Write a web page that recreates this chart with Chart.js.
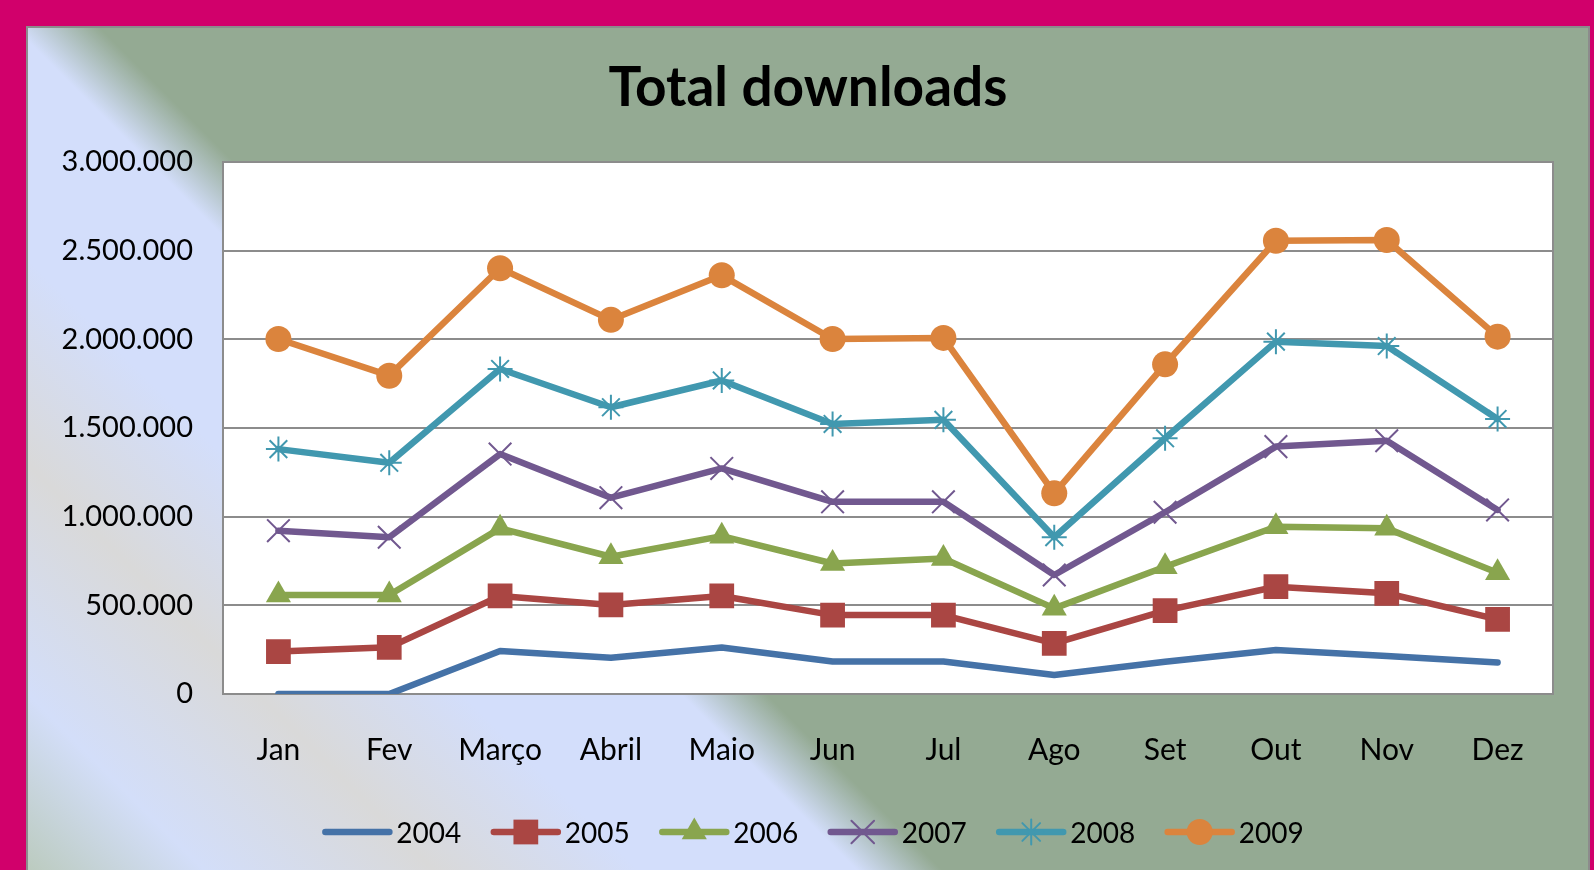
<!doctype html>
<html lang="pt">
<head>
  <meta charset="UTF-8">
  <title>Total downloads</title>
  <script src="https://cdn.jsdelivr.net/npm/chart.js@4.4.0/dist/chart.umd.min.js"></script>
  <style>
    html, body { margin: 0; padding: 0; width: 1594px; height: 870px; overflow: hidden; background: #D1006B; }
    #frame {
      position: absolute; left: 26px; top: 26px; width: 1560px; height: 860px;
      border: 2px solid #8C8C8C;
      background: linear-gradient(45deg, #B9C9B9 0%, #D3DEF9 8%, #D9D9D9 17.5%, #D3DEFB 26%, #D3DEFB 35%, #94AA93 38.5%, #94AA93 100%);
    }
    canvas { position: absolute; left: 0; top: 0; }
  </style>
</head>
<body>
  <div id="frame"><canvas id="canvas" width="1560" height="842"></canvas></div>
  <script>
    var chartTitle = 'Total downloads';
    var months = ['Jan', 'Fev', 'Março', 'Abril', 'Maio', 'Jun', 'Jul', 'Ago', 'Set', 'Out', 'Nov', 'Dez'];
    var years = ['2004', '2005', '2006', '2007', '2008', '2009'];
    var d2004 = [0, 0, 242000, 205000, 262000, 183000, 183000, 107000, 182000, 248000, 214000, 177000];
    var d2005 = [239000, 263000, 553000, 502000, 553000, 445000, 445000, 286000, 470000, 605000, 568000, 421000];
    var d2006 = [558000, 558000, 934000, 774000, 890000, 736000, 764000, 483000, 718000, 943000, 934000, 684000];
    var d2007 = [921000, 884000, 1353000, 1107000, 1272000, 1084000, 1084000, 671000, 1025000, 1395000, 1428000, 1038000];
    var d2008 = [1381000, 1304000, 1833000, 1617000, 1768000, 1523000, 1546000, 884000, 1442000, 1987000, 1962000, 1551000];
    var d2009 = [2002000, 1795000, 2401000, 2110000, 2361000, 2002000, 2008000, 1132000, 1859000, 2556000, 2560000, 2015000];
    var yTicks = [0, 500000, 1000000, 1500000, 2000000, 2500000, 3000000];

    var colors = ['#4572A7', '#AA4643', '#89A54E', '#71588F', '#4198AF', '#DB843D'];
    var styles = ['circle', 'rect', 'triangle', 'crossRot', 'star', 'circle'];
    var radii = [0, 17.5, 14.5, 16, 12.5, 13];
    var series = [d2004, d2005, d2006, d2007, d2008, d2009];

    const fmt = v => String(v).replace(/\B(?=(\d{3})+(?!\d))/g, '.');
    const FONT = 'Lato';

    var datasets = series.map((d, i) => ({
      label: years[i],
      data: d,
      borderColor: colors[i],
      backgroundColor: colors[i],
      borderWidth: 6.5,
      borderCapStyle: 'round',
      borderJoinStyle: 'round',
      pointStyle: styles[i],
      pointRadius: radii[i],
      pointHoverRadius: radii[i],
      pointBorderWidth: (styles[i] === 'crossRot' || styles[i] === 'star') ? 2 : 0,
      pointBackgroundColor: colors[i],
      pointBorderColor: colors[i],
      tension: 0
    }));

    var plotBox = {
      id: 'plotBox',
      beforeDraw(chart) {
        var a = chart.chartArea, ctx = chart.ctx;
        ctx.save();
        ctx.fillStyle = '#FFFFFF';
        ctx.fillRect(a.left, a.top, a.right - a.left, a.bottom - a.top);
        // title centred on the whole frame, not on the padded box
        ctx.fillStyle = '#000000';
        ctx.font = 'bold 55px ' + FONT;
        ctx.textAlign = 'center';
        ctx.textBaseline = 'middle';
        ctx.fillText(chartTitle, chart.width / 2, 60);
        ctx.restore();
      },
      beforeDatasetsDraw(chart) {
        var a = chart.chartArea, ctx = chart.ctx;
        ctx.save();
        ctx.strokeStyle = '#8C8C8C';
        ctx.lineWidth = 2;
        ctx.strokeRect(a.left, a.top, a.right - a.left, a.bottom - a.top);
        ctx.restore();
      }
    };

    // legend: line sample with marker, like the spreadsheet one
    var lineLegend = {
      id: 'lineLegend',
      afterDraw(chart) {
        var ctx = chart.ctx;
        var sample = 70, gap = 4, spacing = 29.5, y = 804;
        ctx.save();
        ctx.font = '28px ' + FONT;
        ctx.textBaseline = 'middle';
        ctx.textAlign = 'left';
        var widths = chart.data.datasets.map(ds => ctx.measureText(ds.label).width);
        var total = widths.reduce((s, w) => s + sample + gap + w, 0) + spacing * (widths.length - 1);
        var x = chart.width / 2 - total / 2 + 5;
        chart.data.datasets.forEach((ds, i) => {
          ctx.strokeStyle = ds.borderColor;
          ctx.fillStyle = ds.borderColor;
          ctx.lineWidth = 6.5;
          ctx.lineCap = 'round';
          ctx.beginPath();
          ctx.moveTo(x + 3, y);
          ctx.lineTo(x + sample - 3, y);
          ctx.stroke();
          if (ds.pointRadius > 0 && Chart.helpers && Chart.helpers.drawPoint) {
            ctx.lineWidth = ds.pointBorderWidth || 0.01;
            Chart.helpers.drawPoint(ctx, {
              pointStyle: ds.pointStyle,
              radius: ds.pointRadius,
              rotation: 0,
              borderWidth: ds.pointBorderWidth
            }, x + sample / 2, y);
          }
          ctx.fillStyle = '#000000';
          ctx.fillText(ds.label, x + sample + gap, y + 2);
          x += sample + gap + widths[i] + spacing;
        });
        ctx.restore();
      }
    };

    new Chart(document.getElementById('canvas'), {
      type: 'line',
      data: { labels: months, datasets: datasets },
      plugins: [plotBox, lineLegend],
      options: {
        responsive: false,
        maintainAspectRatio: false,
        devicePixelRatio: 1,
        animation: false,
        layout: { padding: { left: 0, right: 35, top: 134, bottom: 0 } },
        plugins: {
          legend: { display: false },
          tooltip: { enabled: false },
          title: { display: false }
        },
        scales: {
          x: {
            offset: true,
            grid: { display: false, drawTicks: false },
            border: { display: false },
            ticks: { color: '#000000', font: { family: FONT, size: 30 }, padding: 38, maxRotation: 0 },
            afterFit: s => { s.height = 176; }
          },
          y: {
            min: 0,
            max: 3000000,
            afterBuildTicks: s => { s.ticks = yTicks.map(v => ({ value: v })); },
            grid: { color: '#8C8C8C', lineWidth: 2, drawTicks: false },
            border: { display: false },
            ticks: { color: '#000000', font: { family: FONT, size: 29 }, padding: 30, callback: v => fmt(v) },
            afterFit: s => { s.width = 195; }
          }
        }
      }
    });
  </script>
</body>
</html>
